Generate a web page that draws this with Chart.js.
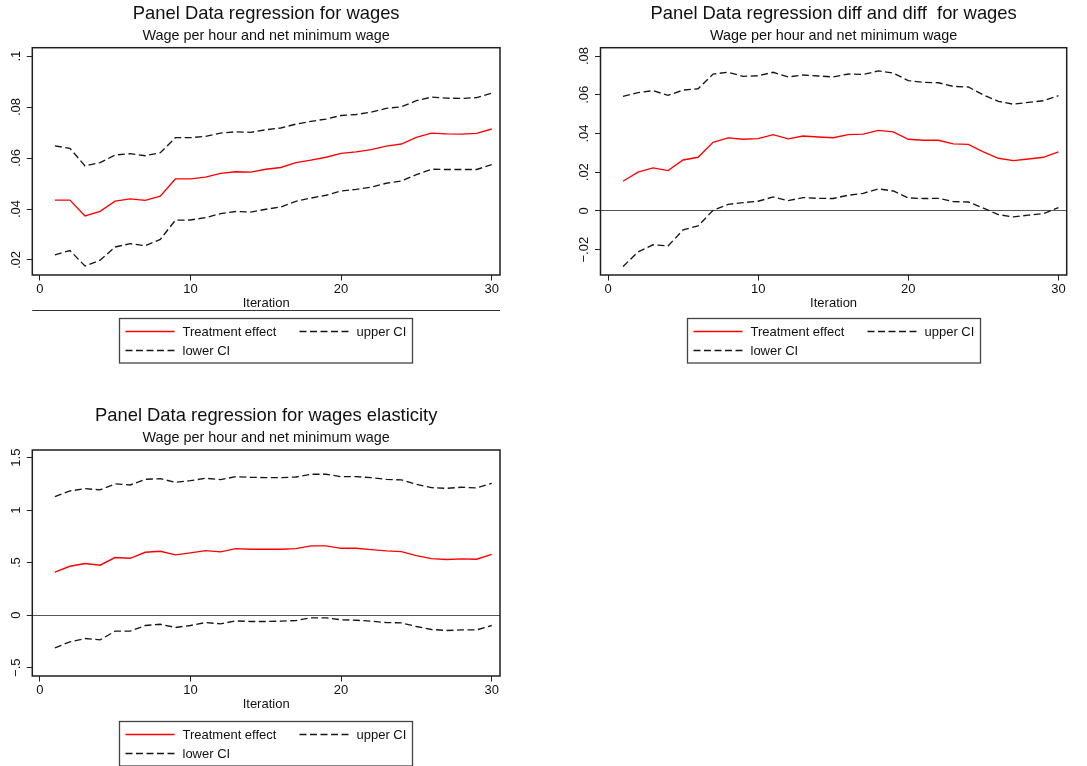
<!DOCTYPE html>
<html>
<head>
<meta charset="utf-8">
<script src="https://cdn.jsdelivr.net/npm/chart.js@4/dist/chart.umd.min.js"></script>
<style>
  body { margin: 0; background: #fff; width: 1087px; height: 766px; position: relative; overflow: hidden; }
  canvas { position: absolute; }
</style>
</head>
<body>
<canvas id="wages" style="left:0;top:0" width="532" height="380"></canvas>
<canvas id="did" style="left:543px;top:0" width="544" height="380"></canvas>
<canvas id="elast" style="left:0;top:390px" width="532" height="376"></canvas>
<script>
// iteration on the x axis
const iterations = [1, 2, 3, 4, 5, 6, 7, 8, 9, 10, 11, 12, 13, 14, 15,
                    16, 17, 18, 19, 20, 21, 22, 23, 24, 25, 26, 27, 28, 29, 30];
const seriesNames = ['Treatment effect', 'upper CI', 'lower CI'];

// wages
const wagesEffect = [.0435, .0435, .0373, .0391, .0431, .0440, .0434, .0450, .0518, .0518,
                     .0525, .0540, .0546, .0545, .0556, .0563, .0582, .0592, .0603, .0618,
                     .0624, .0633, .0647, .0655, .0681, .0698, .0695, .0694, .0697, .0714];
const wagesUpper = [.0648, .0638, .0569, .0582, .0612, .0617, .0609, .0621, .0680, .0680,
                    .0685, .0698, .0703, .0701, .0711, .0718, .0733, .0744, .0753, .0767,
                    .0771, .0780, .0795, .0801, .0825, .0839, .0835, .0834, .0837, .0855];
const wagesLower = [.0220, .0237, .0176, .0199, .0251, .0264, .0256, .0281, .0356, .0357,
                    .0366, .0382, .0390, .0388, .0399, .0408, .0430, .0443, .0454, .0471,
                    .0477, .0486, .0501, .0510, .0535, .0556, .0555, .0555, .0555, .0574];

// diff and diff
const didEffect = [.0153, .0200, .0222, .0208, .0263, .0277, .0354, .0377, .0370, .0373,
                   .0394, .0372, .0387, .0382, .0378, .0394, .0397, .0416, .0408, .0370,
                   .0365, .0365, .0346, .0344, .0305, .0272, .0260, .0268, .0277, .0305];
const didUpper = [.0592, .0611, .0621, .0597, .0624, .0631, .0707, .0716, .0695, .0698,
                  .0716, .0692, .0702, .0697, .0692, .0707, .0705, .0723, .0712, .0673,
                  .0664, .0662, .0643, .0640, .0599, .0566, .0551, .0561, .0569, .0595];
const didLower = [-.0287, -.0212, -.0175, -.0181, -.0098, -.0077, .0003, .0034, .0043, .0050,
                  .0072, .0053, .0069, .0065, .0064, .0081, .0091, .0114, .0103, .0067,
                  .0064, .0065, .0048, .0046, .0014, -.0019, -.0031, -.0022, -.0014, .0017];

// elasticity
const elastEffect = [.409, .466, .492, .476, .549, .542, .599, .609, .574, .593,
                     .615, .603, .634, .628, .628, .628, .634, .660, .660, .637,
                     .637, .625, .612, .606, .568, .539, .530, .536, .533, .580];
const elastUpper = [1.129, 1.183, 1.205, 1.193, 1.250, 1.240, 1.294, 1.300, 1.265, 1.281,
                    1.304, 1.291, 1.319, 1.313, 1.310, 1.310, 1.316, 1.342, 1.342, 1.319,
                    1.319, 1.310, 1.294, 1.288, 1.246, 1.215, 1.208, 1.218, 1.212, 1.256];
const elastLower = [-.311, -.254, -.222, -.235, -.152, -.152, -.098, -.086, -.117, -.098,
                    -.070, -.082, -.054, -.060, -.060, -.057, -.051, -.025, -.025, -.044,
                    -.048, -.057, -.070, -.073, -.108, -.136, -.146, -.140, -.140, -.098];

// axis ticks
const xTicks = [0, 10, 20, 30];
const wagesTicks = [.02, .04, .06, .08, .1];
const wagesTickLabels = ['.02', '.04', '.06', '.08', '.1'];
const didTicks = [-.02, 0, .02, .04, .06, .08];
const didTickLabels = ['\u2212.02', '0', '.02', '.04', '.06', '.08'];
const elastTicks = [-.5, 0, .5, 1, 1.5];
const elastTickLabels = ['\u2212.5', '0', '.5', '1', '1.5'];

const FONT = "'Liberation Sans', Arial, sans-serif";
const INK = '#111';
const Y_AXIS_W = 30;
const TITLE_PX = 18.4, SUB_PX = 14.4;

// plot frame, legend box and the rule under panel one
const stataBox = {
  id: 'stataBox',
  afterDraw(chart, args, o) {
    const ctx = chart.ctx;
    const a = chart.chartArea;
    ctx.save();
    ctx.strokeStyle = '#1e1e1e';
    ctx.lineWidth = 1.5;
    ctx.strokeRect(a.left, a.top, a.right - a.left, a.bottom - a.top);

    if (o.rule) {
      ctx.lineWidth = 1;
      ctx.strokeStyle = '#333';
      ctx.beginPath();
      ctx.moveTo(a.left, o.rule + 0.5);
      ctx.lineTo(a.right, o.rule + 0.5);
      ctx.stroke();
    }

    const w = 293, h = 44.5;
    const bx = Math.floor((a.left + a.right) / 2 - w / 2) + 0.5;
    const by = Math.round(o.legendTop) + 0.5;
    ctx.strokeStyle = '#444';
    ctx.lineWidth = 1.3;
    ctx.strokeRect(bx, by, w, h);

    const slots = [[6, 13], [180, 13], [6, 32]];
    ctx.font = '13px ' + FONT;
    ctx.textBaseline = 'middle';
    ctx.textAlign = 'left';
    chart.data.datasets.forEach((ds, i) => {
      const [sx, sy] = slots[i];
      ctx.strokeStyle = ds.borderColor;
      ctx.lineWidth = 1.3;
      ctx.setLineDash(ds.borderDash || []);
      ctx.beginPath();
      ctx.moveTo(bx + sx, by + sy);
      ctx.lineTo(bx + sx + 49, by + sy);
      ctx.stroke();
      ctx.setLineDash([]);
      ctx.fillStyle = INK;
      ctx.fillText(ds.label, bx + sx + 57, by + sy + 0.5);
    });
    ctx.restore();
  }
};

function panel(id, o) {
  const cv = document.getElementById(id);
  const pts = vals => iterations.map((it, i) => ({ x: it, y: vals[i] }));
  const dashed = { borderColor: '#161616', borderWidth: 1.35, borderDash: [7, 3.5] };
  // title / subtitle blocks sized so their centres land on titleY / subY
  const tLine = TITLE_PX * 1.2, sLine = SUB_PX * 1.2;
  const tPad = o.titleY - tLine / 2;
  const sPadTop = o.subY - sLine / 2 - (tPad + tLine);
  const sPadBottom = o.top - (o.subY + sLine / 2);
  return new Chart(cv, {
    type: 'line',
    data: {
      datasets: [
        { label: seriesNames[0], data: pts(o.effect), borderColor: '#ff0000', borderWidth: 1.35 },
        Object.assign({ label: seriesNames[1], data: pts(o.upper) }, dashed),
        Object.assign({ label: seriesNames[2], data: pts(o.lower) }, dashed)
      ]
    },
    options: {
      responsive: false,
      animation: false,
      devicePixelRatio: 1,
      elements: { point: { radius: 0 }, line: { tension: 0 } },
      layout: {
        padding: { left: o.left - Y_AXIS_W, right: cv.width - o.right, top: 0, bottom: cv.height - o.bottom - o.xAxisH }
      },
      plugins: {
        legend: { display: false },
        tooltip: { enabled: false },
        title: {
          display: true, fullSize: false, text: o.title, color: INK,
          font: { family: FONT, size: TITLE_PX, weight: 'normal' },
          padding: { top: tPad, bottom: 0 }
        },
        subtitle: {
          display: true, fullSize: false, text: 'Wage per hour and net minimum wage', color: INK,
          font: { family: FONT, size: SUB_PX, weight: 'normal' },
          padding: { top: sPadTop, bottom: sPadBottom }
        },
        stataBox: { rule: o.rule, legendTop: o.legendTop }
      },
      scales: {
        x: {
          type: 'linear', min: -0.5, max: 30.55,
          afterBuildTicks: s => { s.ticks = xTicks.map(v => ({ value: v })); },
          afterFit: s => { s.height = o.xAxisH; },
          border: { display: false },
          grid: { drawOnChartArea: false, tickLength: 5.5, tickColor: '#222', tickWidth: 1 },
          ticks: { color: INK, font: { family: FONT, size: 13 }, padding: 0.7, maxRotation: 0, autoSkip: false },
          title: { display: true, text: 'Iteration', color: INK, font: { family: FONT, size: 13 }, padding: 0 }
        },
        y: {
          min: o.yMin, max: o.yMax,
          afterBuildTicks: s => { s.ticks = o.yTicks.map(v => ({ value: v })); },
          afterFit: s => { s.width = Y_AXIS_W; },
          border: { display: false },
          grid: {
            color: c => (c.tick && c.tick.value === 0) ? '#555' : 'rgba(0,0,0,0)',
            lineWidth: 1, tickLength: 5.5, tickColor: '#222', tickWidth: 1
          },
          ticks: {
            color: INK, font: { family: FONT, size: 13 }, padding: o.yPad,
            minRotation: 90, maxRotation: 90, crossAlign: 'center', autoSkip: false,
            callback: (v, i) => o.yLabels[i]
          }
        }
      }
    },
    plugins: [stataBox]
  });
}

panel('wages', {
  title: 'Panel Data regression for wages',
  effect: wagesEffect, upper: wagesUpper, lower: wagesLower,
  yTicks: wagesTicks, yLabels: wagesTickLabels, yMin: .0141, yMax: .1033, yPad: 1.5,
  left: 32.3, right: 500, top: 47.7, bottom: 275, xAxisH: 36, titleY: 14, subY: 36,
  rule: 310, legendTop: 318
});

panel('did', {
  title: 'Panel Data regression diff and diff  for wages',
  effect: didEffect, upper: didUpper, lower: didLower,
  yTicks: didTicks, yLabels: didTickLabels, yMin: -.0331, yMax: .0843, yPad: -2.3,
  left: 57.5, right: 523.7, top: 47.7, bottom: 275, xAxisH: 36, titleY: 14, subY: 36,
  rule: null, legendTop: 318
});

panel('elast', {
  title: 'Panel Data regression for wages elasticity',
  effect: elastEffect, upper: elastUpper, lower: elastLower,
  yTicks: elastTicks, yLabels: elastTickLabels, yMin: -.579, yMax: 1.573, yPad: 1.3,
  left: 32.3, right: 500, top: 60, bottom: 286, xAxisH: 36, titleY: 25.7, subY: 47.7,
  rule: null, legendTop: 330.7
});
</script>
</body>
</html>
